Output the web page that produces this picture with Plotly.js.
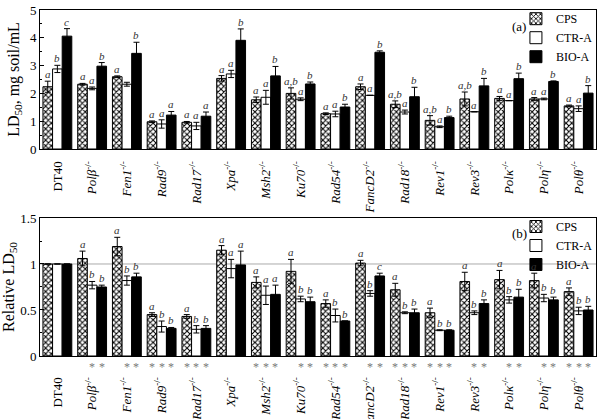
<!DOCTYPE html>
<html><head><meta charset="utf-8">
<script src="https://cdn.plot.ly/plotly-3.0.1.min.js"></script>
<style>html,body{margin:0;padding:0;background:#fff}#chart{width:600px;height:419px}</style>
</head><body><div id="chart"></div>
<script>
const categories = ['DT40','Polβ','Fen1','Rad9','Rad17','Xpa','Msh2','Ku70','Rad54','FancD2','Rad18','Rev1','Rev3','Polκ','Polη','Polθ'];
const seriesNames = ['CPS','CTR-A','BIO-A'];

// Panel (a): LD50, mg soil/mL
const ldCPS    = [2.24,2.33,2.60,0.98,0.96,2.54,1.77,2.00,1.27,2.24,1.61,1.03,1.80,1.82,1.80,1.55];
const ldCPSerr = [0.20,0.03,0.03,0.03,0.03,0.10,0.10,0.20,0.03,0.10,0.12,0.17,0.25,0.07,0.05,0.03];
const ldCTR    = [2.88,2.18,2.33,0.90,0.83,2.70,1.86,1.79,1.26,1.93,1.33,0.80,1.34,1.74,1.80,1.45];
const ldCTRerr = [0.13,0.05,0.07,0.15,0.13,0.13,0.25,0.05,0.10,0.00,0.07,0.03,0.00,0.00,0.03,0.10];
const ldBIO    = [4.06,2.98,3.44,1.22,1.18,3.91,2.63,2.34,1.51,3.48,1.88,1.13,2.27,2.53,2.43,2.01];
const ldBIOerr = [0.27,0.13,0.40,0.13,0.15,0.41,0.34,0.07,0.10,0.05,0.34,0.05,0.27,0.20,0.02,0.27];
const lettersCPSa = ['a','a','a','a','a','a','a','a,b','a','a','a,b','a,b','a,b','a','a','a'];
const lettersCTRa = ['b','a','','a','a','a','a','a','a','a','a','a','a','a','a','a'];
const lettersBIOa = ['c','b','b','a','a','b','b','b','b','b','b','b','b','b','b','b'];

// Panel (b): Relative LD50
const relCPS    = [1,1.06,1.19,0.45,0.43,1.15,0.80,0.92,0.57,1.01,0.72,0.47,0.81,0.83,0.82,0.70];
const relCPSerr = [0,0.08,0.10,0.02,0.02,0.05,0.06,0.13,0.04,0.03,0.07,0.05,0.10,0.10,0.08,0.04];
const relCTR    = [1,0.77,0.82,0.32,0.29,0.95,0.66,0.62,0.44,0.68,0.47,0.28,0.47,0.61,0.63,0.49];
const relCTRerr = [0,0.04,0.05,0.06,0.04,0.10,0.10,0.03,0.07,0.03,0.01,0.005,0.02,0.035,0.04,0.04];
const relBIO    = [1,0.75,0.86,0.30,0.30,0.99,0.67,0.59,0.38,0.87,0.47,0.28,0.57,0.64,0.61,0.50];
const relBIOerr = [0,0.02,0.04,0.01,0.03,0.15,0.10,0.05,0.00,0.03,0.04,0.005,0.04,0.085,0.03,0.04];
const lettersCPSb = ['','a','a','a','a','a','a','a','a','a','a','a','a','a','a','a'];
const lettersCTRb = ['','b','b','b','b','a','a','b','b','b','b','b','b','b','b','b'];
const lettersBIOb = ['','b','b','b','b','a','a','b','b','c','b','b','b','b','b','b'];
const starsCPS = [0,0,0,1,1,0,1,0,1,0,1,1,0,0,0,1];
const starsCTR = [0,1,1,1,1,0,1,1,1,1,1,1,1,1,1,1];
const starsBIO = [0,1,1,1,1,0,1,1,1,1,1,1,1,1,1,1];
const referenceLine = 1;

const FONT = 'Liberation Serif, Times New Roman, serif';
const idx = categories.map((c,i)=>i);
const tickText = categories.map((c,i)=> i===0 ? c : '<i>'+c+'</i><sup>-/-</sup>');
const bargap = 0.17;
const bw = (1-bargap)/3;

const styles = [
  {color:'white', line:{color:'black',width:1}, pattern:{shape:'x', fgcolor:'black', bgcolor:'white', size:4, solidity:0.45}},
  {color:'white', line:{color:'black',width:1}},
  {color:'black', line:{color:'black',width:1}}
];

function barTrace(name, vals, errs, j, xa, ya, legend){
  return {type:'bar', name:name, x:idx, y:vals, xaxis:xa, yaxis:ya, legend:legend,
    marker:styles[j], showlegend:true,
    error_y:{type:'data', array:errs, visible:true, color:'black', thickness:1, width:3}};
}

const data = [
  barTrace('CPS', ldCPS, ldCPSerr, 0, 'x','y','legend'),
  barTrace('CTR-A', ldCTR, ldCTRerr, 1, 'x','y','legend'),
  barTrace('BIO-A', ldBIO, ldBIOerr, 2, 'x','y','legend'),
  barTrace('CPS', relCPS, relCPSerr, 0, 'x2','y2','legend2'),
  barTrace('CTR-A', relCTR, relCTRerr, 1, 'x2','y2','legend2'),
  barTrace('BIO-A', relBIO, relBIOerr, 2, 'x2','y2','legend2')
];

const annotations = [];
function addLetters(letters, vals, errs, j, xa, ya){
  letters.forEach((t,i)=>{
    if(!t) return;
    annotations.push({x:i+(j-1)*bw, y:vals[i]+errs[i], xref:xa, yref:ya, text:'<i>'+t+'</i>',
      showarrow:false, xanchor:'center', yanchor:'bottom', yshift:-1, font:{family:FONT, size:11, color:'#333'}});
  });
}
addLetters(lettersCPSa, ldCPS, ldCPSerr, 0, 'x','y');
addLetters(lettersCTRa, ldCTR, ldCTRerr, 1, 'x','y');
addLetters(lettersBIOa, ldBIO, ldBIOerr, 2, 'x','y');
addLetters(lettersCPSb, relCPS, relCPSerr, 0, 'x2','y2');
addLetters(lettersCTRb, relCTR, relCTRerr, 1, 'x2','y2');
addLetters(lettersBIOb, relBIO, relBIOerr, 2, 'x2','y2');
[starsCPS, starsCTR, starsBIO].forEach((arr,j)=>{
  arr.forEach((s,i)=>{
    if(!s) return;
    annotations.push({x:i+(j-1)*bw, y:0, xref:'x2', yref:'y2 domain', text:'*', showarrow:false,
      xanchor:'center', yanchor:'top', yshift:-2, opacity:0.99, font:{family:FONT, size:12, color:'#777'}});
  });
});
annotations.push({x:0.862, y:0.878, xref:'x domain', yref:'y domain', text:'(a)', showarrow:false,
  xanchor:'center', yanchor:'middle', font:{family:FONT, size:13, color:'black'}});
annotations.push({x:0.862, y:0.891, xref:'x2 domain', yref:'y2 domain', text:'(b)', showarrow:false,
  xanchor:'center', yanchor:'middle', font:{family:FONT, size:13, color:'black'}});

const xCommon = {range:[-0.5,15.5], tickvals:idx, ticktext:tickText, tickangle:-90, ticks:'',
  showline:true, mirror:true, linecolor:'black', linewidth:1, showgrid:false, zeroline:false,
  tickfont:{family:FONT, size:13, color:'black'}};
const yCommon = {ticks:'inside', ticklen:4, tickcolor:'black', showline:true, mirror:true, linecolor:'black',
  linewidth:1, showgrid:false, zeroline:false, tickfont:{family:FONT, size:13, color:'black'}};

const layout = {
  width:600, height:419, margin:{l:40, r:4, t:0, b:0},
  paper_bgcolor:'white', plot_bgcolor:'white',
  barmode:'group', bargap:bargap, bargroupgap:0,
  font:{family:FONT, color:'black'},
  xaxis: Object.assign({}, xCommon, {anchor:'y', domain:[0,1], ticklabelstandoff:6}),
  xaxis2: Object.assign({}, xCommon, {anchor:'y2', domain:[0,1], ticklabelstandoff:15}),
  yaxis: Object.assign({}, yCommon, {anchor:'x', domain:[0.6444,0.9761], range:[0,5], dtick:1,
    minor:{dtick:0.5, ticks:'inside', ticklen:2, tickcolor:'black'},
    title:{text:'LD<sub>50</sub>, mg soil/mL', font:{family:FONT, size:16}, standoff:6}}),
  yaxis2: Object.assign({}, yCommon, {anchor:'x2', domain:[0.1504,0.4797], range:[0,1.5], dtick:0.5,
    minor:{dtick:0.25, ticks:'inside', ticklen:2, tickcolor:'black'},
    title:{text:'Relative LD<sub>50</sub>', font:{family:FONT, size:16}, standoff:6}}),
  legend:{x:0.856, y:0.99, xanchor:'left', yanchor:'top', bgcolor:'rgba(0,0,0,0)',
    font:{family:FONT, size:12}, tracegroupgap:0},
  legend2:{x:0.856, y:0.494, xanchor:'left', yanchor:'top', bgcolor:'rgba(0,0,0,0)',
    font:{family:FONT, size:12}, tracegroupgap:0},
  shapes:[{type:'line', xref:'x2 domain', yref:'y2', x0:0, x1:1, y0:referenceLine, y1:referenceLine,
    line:{color:'#aaa', width:1}, layer:'below'}],
  annotations:annotations
};

Plotly.newPlot('chart', data, layout, {displayModeBar:false, staticPlot:true});
</script></body></html>
